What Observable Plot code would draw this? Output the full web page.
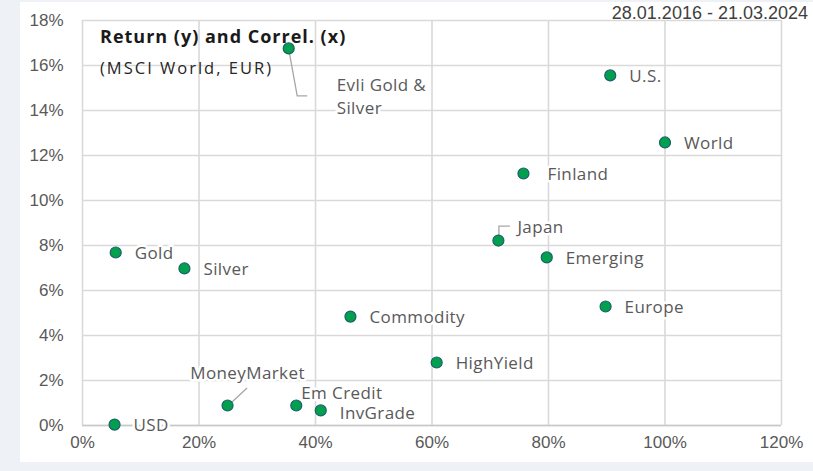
<!DOCTYPE html>
<html><head><meta charset="utf-8">
<script src="https://cdn.jsdelivr.net/npm/d3@7"></script>
<script src="https://cdn.jsdelivr.net/npm/@observablehq/plot@0.6"></script>
<style>
html,body{margin:0;padding:0;background:#eef1f5;width:813px;height:471px;overflow:hidden;}
#panel{position:absolute;left:20px;top:2px;width:793px;height:460px;background:#fff;}
#chart{position:absolute;left:0;top:0;}
#title{position:absolute;left:80px;top:23px;font:bold 18px "Open Sans",sans-serif;letter-spacing:1px;color:#1a1a1a;line-height:22px;white-space:nowrap;}
#subtitle{position:absolute;left:80px;top:55px;font:16.5px "Open Sans",sans-serif;letter-spacing:2px;color:#262626;line-height:22px;white-space:nowrap;}
#date{position:absolute;right:5px;top:3px;font:18px "Liberation Sans",Arial,sans-serif;color:#404040;white-space:nowrap;}
</style></head>
<body>
<div id="panel">
  <div id="chart"></div>
  <div id="title">Return (y) and Correl. (x)</div>
  <div id="subtitle">(MSCI World, EUR)</div>
</div>
<div id="date">28.01.2016 - 21.03.2024</div>
<script>
// ---- data ----
const names   = ["Evli Gold & Silver","U.S.","World","Finland","Japan","Emerging","Europe","Gold","Silver","Commodity","HighYield","MoneyMarket","Em Credit","InvGrade","USD"];
const correl  = [0.354, 0.906, 1.000, 0.757, 0.714, 0.797, 0.898, 0.057, 0.175, 0.460, 0.608, 0.249, 0.367, 0.409, 0.055];
const returns = [16.76, 15.56, 12.58, 11.20, 8.22, 7.47, 5.29, 7.69, 6.98, 4.84, 2.80, 0.89, 0.89, 0.67, 0.04];
const xTicks  = [0, 0.2, 0.4, 0.6, 0.8, 1.0, 1.2];
const yTicks  = [0, 2, 4, 6, 8, 10, 12, 14, 16, 18];

// ---- label placement (pixel offsets, styling only) ----
const labelText = {"Evli Gold & Silver": "Evli Gold &\nSilver"};
const labelPlace = {
  "Evli Gold & Silver": {dx: 48, dy: 47, anchor: "start"},
  "Japan": {dx: 19, dy: -15, anchor: "start"},
  "MoneyMarket": {dx: 20, dy: -34, anchor: "middle"},
  "Em Credit": {dx: 5, dy: -14, anchor: "start"},
  "InvGrade": {dx: 19, dy: 1, anchor: "start"},
  "Finland": {dx: 24, dy: -1, anchor: "start"}
};
const defaultPlace = {dx: 19, dy: -1, anchor: "start"};
// leader polylines, pixel offsets from the point
const leaders = {
  "Evli Gold & Silver": [[1, 4], [9, 48], [19, 48]],
  "Japan": [[1, -4], [1, -14], [12, -14]],
  "MoneyMarket": [[5, -3], [20, -17]]
};

const data = names.map((n, i) => ({name: n, x: correl[i], y: returns[i]}));
const grid = "#d9d9d9";
const labelFont = {fontSize: 17, fill: "#595959", fontFamily: "Open Sans", stroke: "white", strokeWidth: 5};

const labelMarks = data.map(d => {
  const p = labelPlace[d.name] || defaultPlace;
  return Plot.text([d], {
    x: "x", y: "y", text: dd => labelText[dd.name] || dd.name,
    dx: p.dx, dy: p.dy, textAnchor: p.anchor, lineHeight: 1.35,
    ...labelFont
  });
});

const chart = Plot.plot({
  width: 793, height: 460,
  marginLeft: 62, marginRight: 32, marginTop: 18, marginBottom: 37,
  style: {fontFamily: "Liberation Sans, Arial, sans-serif", fontSize: "17px", color: "#595959", background: "transparent"},
  x: {domain: [0, 1.2], ticks: xTicks, tickFormat: d3.format(".0%"), tickSize: 0, tickPadding: 10, label: null},
  y: {domain: [0, 18], ticks: yTicks, tickFormat: d => d + "%", tickSize: 0, tickPadding: 19, label: null},
  marks: [
    Plot.ruleX(xTicks, {stroke: grid, strokeWidth: 1.6}),
    Plot.ruleY(yTicks, {stroke: grid, strokeWidth: 1.6}),
    Plot.ruleY([0], {stroke: "#c8c8c8", strokeWidth: 1.6}),
    ...labelMarks,
    Plot.dot(data, {x: "x", y: "y", r: 5.5, fill: "#00a04e", stroke: "#1f5f6b", strokeWidth: 1.2})
  ]
});
chart.querySelectorAll("text").forEach(t => { if (t.closest("g[aria-label='text']")) t.style.letterSpacing = "0.4px"; });
document.getElementById("chart").appendChild(chart);

// leader lines drawn through the chart's own scales
const sx = chart.scale("x"), sy = chart.scale("y");
const svg = d3.select(chart);
const gL = svg.insert("g", "g[aria-label='text']").attr("fill", "none").attr("stroke", "#a6a6a6").attr("stroke-width", 1.3);
data.forEach(d => {
  const pts = leaders[d.name];
  if (!pts) return;
  const px = sx.apply(d.x), py = sy.apply(d.y);
  gL.append("path").attr("d", d3.line()(pts.map(([a, b]) => [px + a, py + b])));
});
</script>
</body></html>
